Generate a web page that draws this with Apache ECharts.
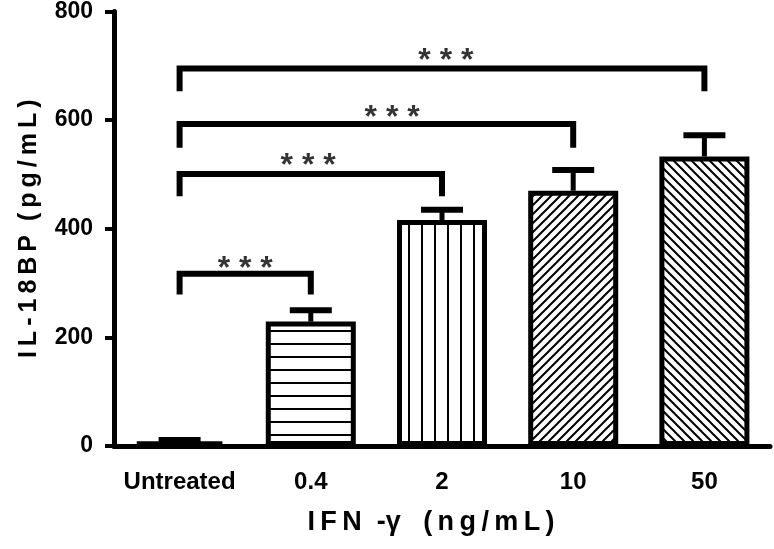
<!DOCTYPE html>
<html>
<head>
<meta charset="utf-8">
<script src="https://cdn.jsdelivr.net/npm/echarts@6/dist/echarts.min.js"></script>
<style>
  html, body { margin: 0; padding: 0; background: #fff; }
  #chart { width: 774px; height: 549px; }
</style>
</head>
<body>
<div id="chart"></div>
<script>
const categories = ['Untreated', '0.4', '2', '10', '50'];
const means = [8, 229, 416, 470, 533];
const upperErr = [11, 250, 435, 508, 572];
const yTicks = [0, 200, 400, 600, 800];

// significance brackets: [from category, to category, line level, leg bottom]
const brackets = [
    [0, 1, 317, 279],
    [0, 2, 501, 460],
    [0, 3, 593, 549],
    [0, 4, 695, 653]
];
const starPos = [[0.5, 326], [0.98, 515], [1.62, 604], [2.03, 708]];

const FONT = '"Liberation Sans", Arial, sans-serif';

function makePattern(kind) {
    const s = kind === 'h' || kind === 'v' ? 13 : 9;
    const c = document.createElement('canvas');
    c.width = s; c.height = s;
    const g = c.getContext('2d');
    g.fillStyle = '#fff';
    g.fillRect(0, 0, s, s);
    g.strokeStyle = '#000';
    g.lineWidth = 2;
    g.beginPath();
    if (kind === 'h') {
        g.moveTo(0, 6); g.lineTo(s, 6);
    } else if (kind === 'v') {
        g.moveTo(6, 0); g.lineTo(6, s);
    } else if (kind === 'fwd') {
        g.moveTo(-1, s + 1); g.lineTo(s + 1, -1);
        g.moveTo(-1, 1); g.lineTo(1, -1);
        g.moveTo(s - 1, s + 1); g.lineTo(s + 1, s - 1);
    } else {
        g.moveTo(-1, -1); g.lineTo(s + 1, s + 1);
        g.moveTo(s - 1, -1); g.lineTo(s + 1, 1);
        g.moveTo(-1, s - 1); g.lineTo(1, s + 1);
    }
    g.stroke();
    return { image: c, repeat: 'repeat' };
}

const fills = ['#fff', makePattern('h'), makePattern('v'), makePattern('fwd'), makePattern('back')];

const chart = echarts.init(document.getElementById('chart'));

const barData = means.map((v, i) => ({
    value: v,
    itemStyle: { color: fills[i] }
}));

const errData = means.map((v, i) => [i, v, upperErr[i]]);

const bracketSeries = brackets.map(b => ({
    type: 'line',
    xAxisIndex: 1,
    symbol: 'none',
    silent: true,
    z: 5,
    lineStyle: { color: '#000', width: 6, cap: 'butt', join: 'miter' },
    data: [[b[0], b[3]], [b[0], b[2]], [b[1], b[2]], [b[1], b[3]]]
}));

chart.setOption({
    animation: false,
    textStyle: { fontFamily: FONT },
    grid: { left: 114, right: 4, top: 10, bottom: 103 },
    xAxis: [{
        type: 'category',
        data: categories,
        axisLine: { onZero: false, lineStyle: { color: '#000', width: 5 } },
        axisTick: { alignWithLabel: true, length: 11, lineStyle: { color: '#000', width: 4 } },
        axisLabel: { interval: 0, color: '#000', fontSize: 24, fontWeight: 'bold', fontFamily: FONT, margin: 24 },
        name: 'I\u2009F\u2009N  -\u03b3   (\u2009n\u2009g\u2009/\u2009m\u2009L\u2009)',
        nameLocation: 'middle',
        nameGap: 63,
        nameTextStyle: { color: '#000', fontSize: 27, fontWeight: 'bold', fontFamily: FONT, padding: [0, 22, 0, 0] }
    }, {
        type: 'value',
        min: -0.5,
        max: 4.5,
        show: false,
        axisLine: { onZero: false }
    }],
    yAxis: {
        type: 'value',
        min: yTicks[0],
        max: yTicks[yTicks.length - 1],
        interval: 200,
        splitLine: { show: false },
        axisLine: { show: true, onZero: false, lineStyle: { color: '#000', width: 5 } },
        axisTick: { show: true, length: 9, lineStyle: { color: '#000', width: 4 } },
        axisLabel: { color: '#000', fontSize: 23, fontWeight: 'bold', fontFamily: FONT, margin: 21 },
        name: 'I\u2009L\u2009-\u20091\u20098\u2009B\u2009P  (\u2009p\u2009g\u2009/\u2009m\u2009L\u2009)',
        nameLocation: 'middle',
        nameGap: 72,
        nameTextStyle: { color: '#000', fontSize: 25, fontWeight: 'bold', fontFamily: FONT }
    },
    series: [{
        type: 'bar',
        data: barData,
        barWidth: 90,
        silent: true,
        itemStyle: { borderColor: '#000', borderWidth: 5 }
    }, {
        type: 'custom',
        data: errData,
        silent: true,
        z: 4,
        renderItem: (params, api) => {
            const top = api.coord([api.value(0), api.value(2)]);
            const base = api.coord([api.value(0), api.value(1)]);
            return {
                type: 'group',
                children: [{
                    type: 'line',
                    shape: { x1: top[0], y1: top[1], x2: base[0], y2: base[1] },
                    style: { stroke: '#000', lineWidth: 5 }
                }, {
                    type: 'line',
                    shape: { x1: top[0] - 21, y1: top[1], x2: top[0] + 21, y2: top[1] },
                    style: { stroke: '#000', lineWidth: 6 }
                }]
            };
        }
    }].concat(bracketSeries).concat([{
        type: 'scatter',
        xAxisIndex: 1,
        symbolSize: 0,
        silent: true,
        z: 6,
        data: starPos,
        label: {
            show: true,
            position: 'inside',
            formatter: '* * *',
            color: '#000',
            fontSize: 32,
            fontWeight: 'bold',
            fontFamily: FONT
        }
    }])
});
</script>
</body>
</html>
